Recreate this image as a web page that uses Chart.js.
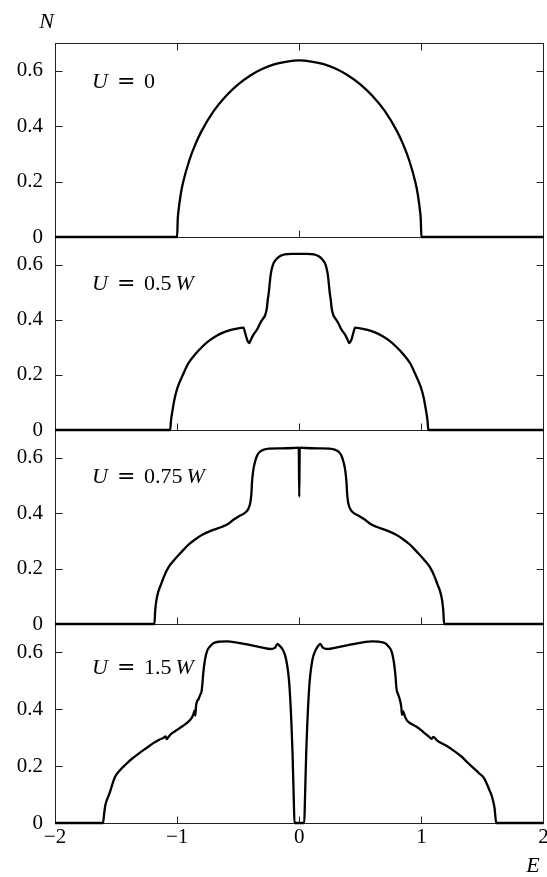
<!DOCTYPE html>
<html>
<head>
<meta charset="utf-8">
<script src="https://cdn.jsdelivr.net/npm/chart.js@4.4.0/dist/chart.umd.min.js"></script>
<style>
  html, body { margin: 0; padding: 0; background: #fff; }
  #wrap { position: relative; width: 547px; height: 877px; }
</style>
</head>
<body>
<div id="wrap"><canvas id="dosChart" width="547" height="877"></canvas></div>
<script>
// tick values
const xTicks = [-2, -1, 0, 1, 2];
const yTicks = [0, 0.2, 0.4, 0.6];

// U for each panel, in units of W ('0' has no W)
const panelU = ['0', '0.5', '0.75', '1.5'];

// U = 0
const energyU0 = [-2, -1, -0.995, -0.99, -0.97, -0.95, -0.9, -0.85, -0.8, -0.7,
  -0.6, -0.5, -0.4, -0.3, -0.2, -0.1, 0, 0.1, 0.2, 0.3,
  0.4, 0.5, 0.6, 0.7, 0.8, 0.85, 0.9, 0.95, 0.97, 0.99,
  0.995, 1, 2];
const dosU0 = [0, 0, 0.064, 0.090, 0.155, 0.199, 0.277, 0.335, 0.382, 0.455,
  0.509, 0.551, 0.583, 0.607, 0.624, 0.633, 0.637, 0.633, 0.624, 0.607,
  0.583, 0.551, 0.509, 0.455, 0.382, 0.335, 0.277, 0.199, 0.155, 0.090,
  0.064, 0, 0];

// U = 0.5 W
const energyU05 = [-2, -1.057, -1.05, -1.037, -1.02, -0.994, -0.95, -0.908, -0.85, -0.794,
  -0.74, -0.68, -0.62, -0.56, -0.5, -0.457, -0.443, -0.425, -0.411, -0.395,
  -0.376, -0.345, -0.32, -0.295, -0.279, -0.266, -0.258, -0.249, -0.24, -0.232,
  -0.215, -0.192, -0.16, -0.12, -0.06, 0,
  0.06, 0.12, 0.16, 0.192, 0.215, 0.232, 0.24, 0.249, 0.258, 0.266,
  0.279, 0.295, 0.32, 0.345, 0.376, 0.395, 0.411, 0.425, 0.443, 0.457,
  0.5, 0.56, 0.62, 0.68, 0.74, 0.794, 0.85, 0.908, 0.95, 0.994,
  1.02, 1.037, 1.05, 1.057, 2];
const dosU05 = [0, 0, 0.035, 0.073, 0.115, 0.157, 0.203, 0.242, 0.276, 0.302,
  0.323, 0.341, 0.354, 0.363, 0.369, 0.371, 0.352, 0.325, 0.315, 0.328,
  0.345, 0.365, 0.387, 0.405, 0.417, 0.44, 0.472, 0.50, 0.54, 0.569,
  0.600, 0.617, 0.630, 0.637, 0.639, 0.639,
  0.639, 0.637, 0.630, 0.617, 0.600, 0.569, 0.54, 0.50, 0.472, 0.44,
  0.417, 0.405, 0.387, 0.365, 0.345, 0.328, 0.315, 0.325, 0.352, 0.371,
  0.369, 0.363, 0.354, 0.341, 0.323, 0.302, 0.276, 0.242, 0.203, 0.157,
  0.115, 0.073, 0.035, 0, 0];

// U = 0.75 W
const energyU075 = [-2, -1.186, -1.18, -1.17, -1.155, -1.13, -1.108, -1.07, -1.022, -0.96,
  -0.908, -0.85, -0.794, -0.72, -0.636, -0.58, -0.536, -0.49, -0.45, -0.42,
  -0.401, -0.392, -0.387, -0.378, -0.364, -0.345, -0.321, -0.29, -0.249, -0.15,
  -0.05, -0.004, 0, 0.004, 0.05, 0.15, 0.249, 0.29, 0.321, 0.345,
  0.364, 0.378, 0.387, 0.392, 0.401, 0.42, 0.45, 0.49, 0.536, 0.58,
  0.636, 0.72, 0.794, 0.85, 0.908, 0.96, 1.022, 1.07, 1.108, 1.13,
  1.155, 1.17, 1.18, 1.186, 2];
const dosU075 = [0, 0, 0.045, 0.085, 0.115, 0.145, 0.171, 0.205, 0.232, 0.262,
  0.286, 0.306, 0.322, 0.337, 0.350, 0.362, 0.377, 0.39, 0.399, 0.413,
  0.437, 0.47, 0.51, 0.55, 0.582, 0.608, 0.622, 0.629, 0.633, 0.634,
  0.635, 0.636, 0.459, 0.636, 0.635, 0.634, 0.633, 0.629, 0.622, 0.608,
  0.582, 0.55, 0.51, 0.47, 0.437, 0.413, 0.399, 0.39, 0.377, 0.362,
  0.350, 0.337, 0.322, 0.306, 0.286, 0.262, 0.232, 0.205, 0.171, 0.145,
  0.115, 0.085, 0.045, 0, 0];

// U = 1.5 W
const energyU15 = [-2, -1.607, -1.597, -1.587, -1.553, -1.51, -1.47, -1.424, -1.37, -1.309,
  -1.25, -1.195, -1.142, -1.11, -1.095, -1.085, -1.074, -1.05, -1.005, -0.951,
  -0.92, -0.882, -0.866, -0.858, -0.851, -0.845, -0.837, -0.827, -0.812, -0.8,
  -0.793, -0.786, -0.772, -0.755, -0.731, -0.7, -0.65, -0.594, -0.5, -0.4,
  -0.3, -0.238, -0.2, -0.178, -0.16, -0.134, -0.107, -0.08, -0.055, -0.044,
  -0.039, 0.041, 0.046, 0.057, 0.082, 0.108, 0.135, 0.155, 0.172, 0.195,
  0.238, 0.3, 0.4, 0.5, 0.6, 0.65, 0.7, 0.731, 0.755, 0.772,
  0.786, 0.797, 0.81, 0.825, 0.835, 0.842, 0.85, 0.865, 0.883, 0.92,
  0.954, 1.0, 1.026, 1.06, 1.083, 1.097, 1.13, 1.212, 1.27, 1.327,
  1.38, 1.427, 1.47, 1.513, 1.556, 1.58, 1.599, 1.613, 2];
const dosU15 = [0, 0, 0.035, 0.064, 0.105, 0.161, 0.185, 0.205, 0.226, 0.246,
  0.264, 0.281, 0.294, 0.300, 0.305, 0.295, 0.301, 0.313, 0.326, 0.342,
  0.352, 0.369, 0.384, 0.395, 0.378, 0.412, 0.428, 0.434, 0.45, 0.463,
  0.49, 0.527, 0.574, 0.605, 0.621, 0.633, 0.638, 0.639, 0.634, 0.626,
  0.617, 0.612, 0.616, 0.630, 0.623, 0.609, 0.574, 0.48, 0.246, 0.07,
  0, 0, 0.07, 0.246, 0.48, 0.574, 0.609, 0.623, 0.630, 0.616,
  0.612, 0.617, 0.626, 0.634, 0.639, 0.638, 0.633, 0.621, 0.605, 0.574,
  0.527, 0.47, 0.452, 0.432, 0.41, 0.38, 0.393, 0.375, 0.36, 0.348,
  0.34, 0.326, 0.316, 0.305, 0.296, 0.303, 0.29, 0.27, 0.253, 0.234,
  0.212, 0.193, 0.176, 0.158, 0.117, 0.09, 0.053, 0, 0];

const panelEnergy = [energyU0, energyU05, energyU075, energyU15];
const panelDos = [dosU0, dosU05, dosU075, dosU15];
const panelAxes = ['y0', 'y1', 'y2', 'y3'];
const panelHeights = [194, 193, 194, 199];
// where the U label sits, in N units of its panel
const panelLabelN = [0.56, 0.53, 0.528, 0.543];

const serif = '"Liberation Serif", "Times New Roman", serif';

function points(es, ns) {
  return es.map((e, i) => ({ x: e, y: ns[i] }));
}

function yAxis(k) {
  return {
    type: 'linear',
    position: 'left',
    stack: 'dos',
    stackWeight: panelHeights[k],
    weight: 4 - k,
    min: 0,
    max: 0.7,
    afterBuildTicks: (scale) => { scale.ticks = yTicks.map(v => ({ value: v })); },
    afterFit: (scale) => { scale.width = 55; scale.paddingTop = 0; scale.paddingBottom = 0; },
    grid: { display: false, drawTicks: false },
    border: { display: false },
    ticks: {
      padding: 12,
      color: '#000',
      font: { family: serif, size: 21 },
      callback: (v) => String(v)
    }
  };
}

const framePlugin = {
  id: 'frames',
  beforeDatasetsDraw(chart) {
    const ctx = chart.ctx;
    const area = chart.chartArea;
    const xs = chart.scales.x;
    const left = Math.round(area.left) + 0.5;
    const right = Math.round(area.right) - 0.5;
    ctx.save();
    ctx.strokeStyle = '#222';
    ctx.lineWidth = 1;
    panelAxes.forEach((id, k) => {
      const ys = chart.scales[id];
      const top = Math.round(ys.top) + 0.5;
      const bottom = Math.round(ys.bottom) + 0.5;
      ctx.strokeRect(left, top, right - left, bottom - top);
      ctx.beginPath();
      yTicks.forEach(v => {
        const py = Math.round(ys.getPixelForValue(v)) + 0.5;
        ctx.moveTo(left, py); ctx.lineTo(left + 7, py);
        ctx.moveTo(right, py); ctx.lineTo(right - 7, py);
      });
      xTicks.slice(1, -1).forEach(v => {
        const px = Math.round(xs.getPixelForValue(v)) + 0.5;
        ctx.moveTo(px, bottom); ctx.lineTo(px, bottom - 7);
        if (k === 0) { ctx.moveTo(px, top); ctx.lineTo(px, top + 7); }
      });
      ctx.stroke();
    });
    ctx.restore();
  },
  afterDatasetsDraw(chart) {
    const ctx = chart.ctx;
    const area = chart.chartArea;
    ctx.save();
    ctx.fillStyle = '#000';
    ctx.textBaseline = 'middle';
    ctx.textAlign = 'left';
    panelAxes.forEach((id, k) => {
      const ys = chart.scales[id];
      const x = area.left + 37;
      const y = ys.getPixelForValue(panelLabelN[k]);
      ctx.font = 'italic 22px ' + serif;
      ctx.fillText('U', x, y);
      ctx.font = '22px "DejaVu Serif"';
      ctx.fillText('=', x + 25, y);
      ctx.font = '22px ' + serif;
      ctx.fillText(panelU[k], x + 52, y);
      if (panelU[k] !== '0') {
        const w = ctx.measureText(panelU[k]).width;
        ctx.font = 'italic 22px ' + serif;
        ctx.fillText('W', x + 52 + w + 4, y);
      }
    });
    // axis names
    ctx.textAlign = 'center';
    ctx.font = 'italic 22px ' + serif;
    ctx.fillText('N', 46.5, 22);
    ctx.fillText('E', 533, 866);
    ctx.restore();
  }
};

const scales = {
  x: {
    type: 'linear',
    position: 'bottom',
    min: -2,
    max: 2,
    afterBuildTicks: (scale) => { scale.ticks = xTicks.map(v => ({ value: v })); },
    afterFit: (scale) => { scale.height = 54; scale.paddingLeft = 0; scale.paddingRight = 0; },
    grid: { display: false, drawTicks: false },
    border: { display: false },
    ticks: {
      padding: 2,
      color: '#000',
      maxRotation: 0,
      font: { family: serif, size: 21 },
      callback: (v) => (v < 0 ? '\u2212' + Math.abs(v) : String(v))
    }
  }
};
panelAxes.forEach((id, k) => { scales[id] = yAxis(k); });

new Chart(document.getElementById('dosChart'), {
  type: 'line',
  data: {
    datasets: panelAxes.map((id, k) => ({
      data: points(panelEnergy[k], panelDos[k]),
      yAxisID: id,
      xAxisID: 'x',
      borderColor: '#000',
      borderWidth: 2.3,
      pointRadius: 0,
      fill: false,
      clip: false,
      cubicInterpolationMode: 'monotone'
    }))
  },
  options: {
    responsive: false,
    animation: false,
    devicePixelRatio: 1,
    layout: { padding: { top: 43, right: 3.5, bottom: 0, left: 0 } },
    plugins: { legend: { display: false }, tooltip: { enabled: false } },
    scales: scales
  },
  plugins: [framePlugin]
});
</script>
</body>
</html>
